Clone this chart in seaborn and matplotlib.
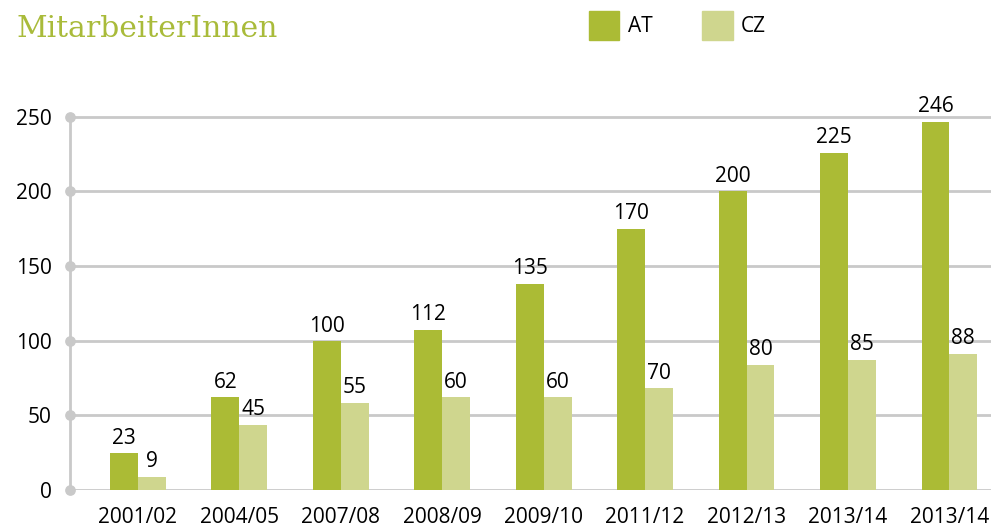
import pandas as pd
import numpy as np
import matplotlib.pyplot as plt
import seaborn as sns
from matplotlib.patches import Patch

# Data
years = ['2001/02', '2004/05', '2007/08', '2008/09', '2009/10',
         '2011/12', '2012/13', '2013/14', '2013/14']
# bar heights as drawn
at_height = [24.5, 62, 99.5, 107.5, 138, 175, 200, 225.5, 246.5]
cz_height = [8.5, 43.5, 58.5, 62, 62, 68, 84, 87, 91]
# numbers printed over the bars
at_labels = ['23', '62', '100', '112', '135', '170', '200', '225', '246']
cz_labels = ['9', '45', '55', '60', '60', '70', '80', '85', '88']
yticks = [0, 50, 100, 150, 200, 250]

at_color = '#abbb35'
cz_color = '#cfd68e'
grid_color = '#c9c9c9'
fs = 15

df = pd.DataFrame({
    'pos': list(range(len(years))) * 2,
    'value': at_height + cz_height,
    'land': ['AT'] * len(years) + ['CZ'] * len(years),
})

sns.set_style("white")
plt.rcParams['font.family'] = ['Open Sans', 'DejaVu Sans']
plt.rcParams['text.color'] = 'black'

fig = plt.figure(figsize=(9.91, 5.29), dpi=100)
ax = fig.add_axes([70 / 991, 0.0737, 921 / 991, 0.7197])

sns.barplot(data=df, x='pos', y='value', hue='land',
            palette=[at_color, cz_color], width=0.55, gap=0,
            saturation=1, legend=False, linewidth=0, ax=ax, zorder=3)

ax.bar_label(ax.containers[0], labels=at_labels, padding=3.5,
             fontsize=fs, color='black')
ax.bar_label(ax.containers[1], labels=cz_labels, padding=3.5,
             fontsize=fs, color='black')

ax.set_xlim(-0.67, 8.41)
ax.set_ylim(0, 255)
ax.set_yticks(yticks)
ax.set_xticks(range(len(years)))
ax.set_xticklabels(years)
ax.set_xlabel('')
ax.set_ylabel('')
ax.tick_params(axis='both', length=0, labelsize=fs, colors='black')
ax.tick_params(axis='y', pad=13)
ax.tick_params(axis='x', pad=12)

ax.yaxis.grid(True, color=grid_color, linewidth=2)
ax.set_axisbelow(True)
for side in ['top', 'right', 'bottom']:
    ax.spines[side].set_visible(False)
ax.spines['left'].set_color(grid_color)
ax.spines['left'].set_linewidth(2)
ax.spines['left'].set_bounds(0, 250)
ax.scatter([ax.get_xlim()[0]] * len(yticks), yticks, s=45,
           color=grid_color, clip_on=False, zorder=4)

fig.text(17 / 991, 1 - 37 / 529, 'MitarbeiterInnen', family='DejaVu Serif',
         fontsize=21.5, color='#a9bb3a', va='baseline')

handles = [Patch(color=at_color, label='AT'), Patch(color=cz_color, label='CZ')]
fig.legend(handles=handles, loc='upper left', ncol=2, frameon=False,
           bbox_to_anchor=(589 / 991, 1 - 11 / 529), fontsize=fs,
           handlelength=1.45, handleheight=1.8, handletextpad=0.4,
           columnspacing=2.4, borderpad=0, borderaxespad=0)

plt.savefig('out.png', dpi=100)
